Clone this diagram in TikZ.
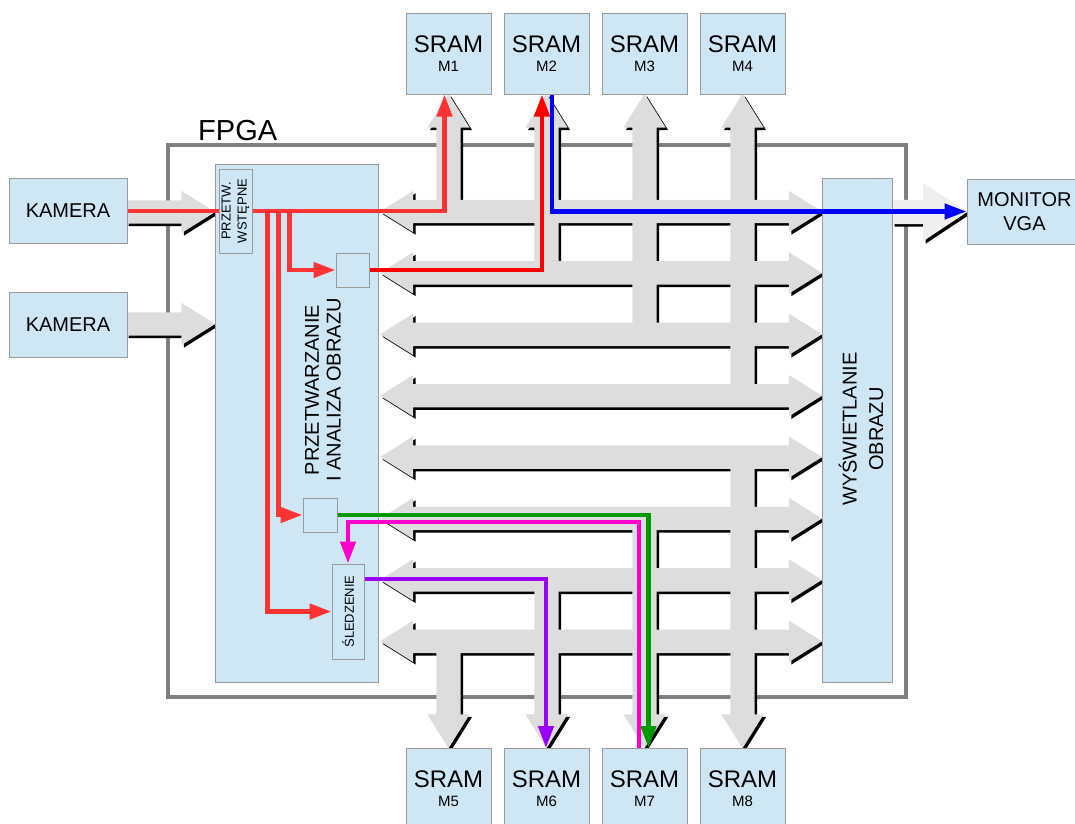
\documentclass[tikz,border=0pt]{standalone}
\usepackage{fontspec}
\setmainfont{Liberation Sans}
\usepackage{xcolor}
\usepackage{tikz}
\usetikzlibrary{positioning,arrows.meta,shapes,calc}

\definecolor{blockfill}{HTML}{CFE7F5}
\definecolor{blockline}{HTML}{9A9A9A}
\definecolor{busgray}{HTML}{DDDDDD}
\definecolor{outgray}{HTML}{EFEFEF}
\definecolor{framegray}{HTML}{808080}
\definecolor{camred}{HTML}{FF3333}
\definecolor{memred}{HTML}{FF0000}
\definecolor{vgablue}{HTML}{0000FF}
\definecolor{trkgreen}{HTML}{009900}
\definecolor{trkmagenta}{HTML}{FF00CC}
\definecolor{trkviolet}{HTML}{9900FF}

\tikzset{
  blk/.style={draw=blockline,fill=blockfill,line width=1pt,inner sep=0pt,align=center},
  sram/.style={blk,minimum width=85pt,minimum height=81pt,font=\fontsize{24}{19}\selectfont},
  kam/.style={blk,minimum width=118pt,minimum height=65pt,font=\fontsize{20}{24}\selectfont},
  vtext/.style={rotate=90,align=center,inner sep=0pt},
  bus/.style={fill=busgray},
  busshadow/.style={fill=black},
  dblbus/.style={double arrow,inner xsep=0pt,inner ysep=11.5pt,minimum height=442pt,
    double arrow head extend=9pt,double arrow tip angle=64},
  sglbus/.style={single arrow,inner xsep=0pt,inner ysep=12pt,
    single arrow head extend=9pt,single arrow tip angle=64,anchor=tail},
  outbus/.style={single arrow,inner xsep=0pt,inner ysep=12pt,
    single arrow head extend=17pt,single arrow tip angle=67,anchor=tail},
  link/.style={line width=4.5pt},
  flow/.style={link,-{Triangle[length=22pt,width=15pt]}},
}

% gray buses, drawn once as shadow and once on top
\newcommand\buslayer[2]{%
  \node[sglbus,#1,inner ysep=11.5pt,single arrow head extend=9.5pt,
        minimum height=89pt] (#1in1) at (126,212) {};
  \node[sglbus,#1,inner ysep=11.5pt,single arrow head extend=9.5pt,
        minimum height=89pt] (#1in2) at (126,324) {};
  \foreach \r in {1,...,8}
    \node[dblbus,#1] (#1row\r) at (601,{211.5+61.4*(\r-1)}) {};
  \foreach \c/\x in {1/448.5,2/546.5,3/644.5,4/742.5}{
    \pgfmathsetmacro\yr{211.5+61.4*(\c-1)}
    \node[sglbus,#1,rotate=90,minimum height={\yr-94}] (#1up\c) at (\x,\yr) {};
  }
  \foreach \c/\x/\r in {5/448.5/8,6/546.5/7,7/644.5/6,8/742.5/5}{
    \pgfmathsetmacro\yr{211.5+61.4*(\r-1)}
    \node[sglbus,#1,rotate=-90,minimum height={748-\yr}] (#1down\c) at (\x,\yr) {};
  }
  \node[outbus,fill=#2,minimum height=75pt] (#1out) at (892,212) {};
}

\begin{document}
\begin{tikzpicture}[x=1pt,y=-1pt]
  \useasboundingbox (0,0) rectangle (1075,823);

  \node[draw=framegray,line width=4pt,inner sep=0pt,minimum width=737.7pt,
        minimum height=551.5pt] (fpga) at (537.2,421.2) {};
  \node[anchor=base west,inner sep=0pt,font=\fontsize{29}{29}\selectfont]
       (fpgalbl) at (198,140) {FPGA};

  \begin{scope}[shift={(2.5,2.5)}]
    \buslayer{busshadow}{black}
  \end{scope}
  \buslayer{bus}{outgray}

  \node[kam] (kam1) at (68,211) {KAMERA};
  \node[kam] (kam2) at (68,324.5) {KAMERA};
  \node[blk,minimum width=115pt,minimum height=65pt,
        font=\fontsize{20}{23.5}\selectfont] (vga) at (1024.5,211.5) {MONITOR\\VGA};

  \foreach \i/\x in {1/448.5,2/546.5,3/644.5,4/742.5}
    \node[sram] (m\i) at (\x,53.5) {SRAM\\\fontsize{15}{19}\selectfont M\i};
  \foreach \i/\x in {5/448.5,6/546.5,7/644.5,8/742.5}
    \node[sram] (m\i) at (\x,789) {SRAM\\\fontsize{15}{19}\selectfont M\i};

  \node[blk,minimum width=163pt,minimum height=518pt] (proc) at (296.5,423) {};
  \node[vtext,font=\fontsize{20}{21.7}\selectfont] (proctxt) at (323,390)
       {PRZETWARZANIE\\I ANALIZA OBRAZU};
  \node[blk,minimum width=70pt,minimum height=504pt] (disp) at (857,430) {};
  \node[vtext,font=\fontsize{20}{26.5}\selectfont] (disptxt) at (861,429)
       {WYŚWIETLANIE\\OBRAZU};

  \node[blk,minimum width=33pt,minimum height=84pt] (prep) at (235.5,211) {};
  \node[vtext,font=\fontsize{13}{16}\selectfont] (preptxt) at (prep) {PRZETW.\\WSTĘPNE};
  \node[blk,minimum width=33pt,minimum height=34pt] (sub1) at (352.5,270) {};
  \node[blk,minimum width=34pt,minimum height=34pt] (sub2) at (320,515) {};
  \node[blk,minimum width=32pt,minimum height=95pt] (trk) at (348,611.5) {};
  \node[vtext,font=\fontsize{13}{16}\selectfont] (trktxt) at (trk) {ŚLEDZENIE};

  % data paths
  \draw[link,camred] (kam1.east) -- (prep.west);
  \draw[flow,camred] (prep.east) -| ([xshift=-4pt]m1.south);
  \draw[flow,camred] ($(prep.east)+(37,0)$) |- (sub1.west);
  \draw[flow,camred] ($(prep.east)+(26,0)$) |- (sub2.west);
  \draw[flow,camred] ($(prep.east)+(15,0)$) |- (trk.west);
  \draw[flow,memred] (sub1.east) -| ([xshift=-4.5pt]m2.south);
  \draw[flow,vgablue] ([xshift=5.5pt]m2.south) |- (vga.west);
  \draw[flow,trkgreen] (sub2.east) -| ([xshift=4pt]m7.north);
  \draw[flow,trkmagenta] ([xshift=-5.5pt]m7.north) |- ([yshift=41.5pt]trk.north)
       -- (trk.north);
  \draw[flow,trkviolet] ([yshift=32.5pt]trk.east) -| ([xshift=-0.5pt]m6.north);
\end{tikzpicture}
\end{document}
